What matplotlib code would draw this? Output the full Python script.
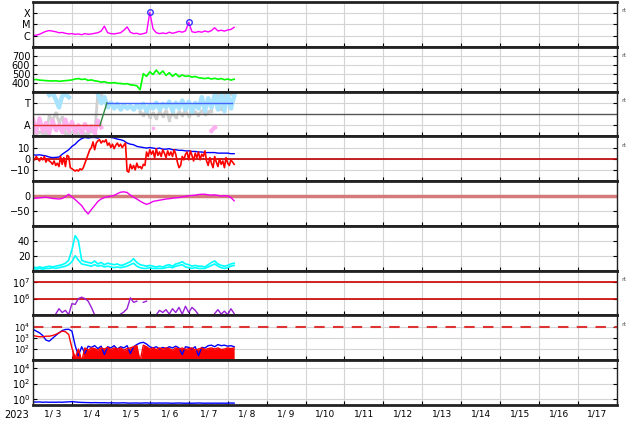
"""Space-weather summary stack: X-ray, solar wind, IMF, Dst, density, electrons, protons."""

import matplotlib

matplotlib.use("Agg")

import matplotlib.dates as mdates
import matplotlib.pyplot as plt
import matplotlib.ticker as mticker
import numpy as np

nan = np.nan
START = np.datetime64("2023-01-03T00:00")
END = np.datetime64("2023-01-18T00:00")

# sample times, hours after 2023-01-03 00:00 UT
hours = np.arange(0, 125, 2)      # 2-hour cadence
hours_1h = np.arange(0, 125, 1)   # 1-hour cadence

# GOES X-ray flux, units of 1e-6 W/m2
xray = [1.0, 1.1, 1.3, 1.8, 2.4, 2.8, 2.5, 2.2,
        1.8, 1.9, 1.6, 1.4, 1.5, 1.3, 1.4, 1.2,
        1.5, 1.3, 1.4, 1.6, 1.8, 2.5, 7.0, 1.8,
        1.5, 1.4, 1.6, 1.8, 3.0, 6.0, 2.0, 1.5,
        1.6, 1.3, 1.5, 1.8, 120.0, 4.0, 1.8, 1.5,
        1.7, 1.5, 2.0, 1.6, 1.9, 2.4, 2.0, 2.6,
        15.0, 2.2, 1.9, 2.3, 2.0, 2.6, 2.1, 2.8,
        5.0, 2.6, 3.0, 2.5, 3.2, 3.5, 5.5]
flare_hours = [72, 96]
flare_peak = [120.0, 15.0]

# solar wind speed, km/s
speed = [430, 435, 428, 425, 422, 420, 418, 420,
         415, 418, 422, 425, 430, 440, 445, 435,
         440, 425, 430, 420, 415, 405, 410, 398,
         395, 400, 392, 390, 385, 388, 375, 372,
         365, 320, 500, 470, 520, 490, 540, 495,
         530, 480, 510, 470, 500, 465, 485, 470,
         475, 462, 468, 455, 450, 445, 452, 440,
         448, 438, 445, 432, 440, 428, 438]

# IMF sector: T = +1, A = -1
imf_toward = [nan, nan, nan, nan, nan, 1.7, 1.9, 1.3,
              0.6, 1.6, 1.8, 1.5, nan, nan, nan, nan,
              nan, nan, nan, nan, 1.8, 1.0, 1.5, 0.6,
              1.0, 0.5, 0.9, 0.4, 0.8, 0.5, 0.7, 0.4,
              0.8, 0.5, 0.9, 0.3, 0.8, 0.5, 1.0, 0.4,
              0.9, 0.6, 1.1, 0.3, 1.0, 0.5, 1.2, 0.4,
              1.1, 0.2, 1.0, 0.5, 1.5, 0.3, 1.4, 0.6,
              1.7, 0.4, 1.8, 0.3, 1.9, 0.5, 1.6]
imf_away = [-0.5, -1.6, -0.4, -1.5, -0.8, -1.7, -0.6, -1.4,
            -1.0, -1.6, -0.5, -1.5, -0.7, -1.6, -1.0, -1.7,
            -0.9, -1.5, -1.1, -1.7, -0.6, -1.2, nan, nan,
            nan, nan, nan, nan, nan, nan, nan, nan,
            nan, nan, nan, nan, nan, -1.3, nan, nan,
            nan, nan, nan, nan, nan, nan, nan, nan,
            nan, nan, nan, nan, nan, nan, nan, -1.5,
            -1.2, nan, nan, nan, nan, nan, nan]
imf_other = [-1.7, -1.8, -1.6, -1.75, -1.7, -0.2, -0.6, 0.1,
             -0.7, -0.3, -1.7, -1.8, -1.6, -1.75, -1.7, -1.6,
             -1.8, -1.7, -1.5, -1.75, 1.9, 1.7, nan, nan,
             nan, nan, nan, nan, nan, nan, nan, nan,
             nan, 0.2, -0.1, 0.3, -0.3, 0.1, -0.4, 0.2,
             -0.2, 0.3, -0.5, 0.1, -0.3, 0.2, -0.1, 0.3,
             -0.2, 0.1, 0.2, -0.1, 0.3, 0.0, 0.2, 0.3,
             1.9, 1.8, 0.4, 1.9, 1.7, 1.8, 1.9]
sector_hours = [0, 41.3, 45.6, 122.7]
sector = [-1, -1, 1, 1]

# IMF magnitude (2-hour) and Bz (1-hour), nT
bt = [3.5, 3.2, 3.5, 3.0, 2.5, 1.5, 1.0, 1.2,
      1.5, 4.0, 6.0, 8.0, 11.0, 13.0, 16.0, 18.0,
      19.0, 18.5, 19.0, 19.0, 18.5, 19.5, 20.0, 19.5,
      19.0, 18.5, 17.5, 17.0, 16.0, 14.0, 13.0, 12.5,
      11.0, 10.5, 10.0, 9.5, 10.0, 9.5, 9.0, 9.5,
      8.5, 8.5, 9.0, 8.0, 8.0, 7.5, 7.5, 7.0,
      7.0, 6.5, 6.5, 6.0, 6.0, 5.5, 5.5, 5.5,
      5.5, 5.0, 5.0, 5.0, 5.0, 4.5, 4.5]
bz = [1, -1, 2, 0, -2, 1, -1, 2, -3, 0,
      -2, -3, -5, -2, -6, -4, -7, 2, -5, 1,
      -7, 3, 2, -8, -9, -10, -11, -10, -11, -9,
      -10, -8, -4, 0, 4, 8, 10, 15, 8, 14,
      16, 17, 14, 16, 15, 17, 12, 14, 10, 13,
      9, 12, 14, 11, 13, 10, 12, 14, -11, -12,
      -5, -9, -6, -10, -4, -8, -7, -9, -5, -6,
      6, 2, 8, 4, 7, 1, 9, 3, 6, 2,
      8, 5, 1, 7, 3, 6, 2, 8, 4, -3,
      -8, -6, 2, -1, 4, 6, -1, 7, 3, -2,
      5, 1, 6, -1, 4, 2, 7, -2, -6, 1,
      -4, -8, 2, -3, -7, 0, -5, -2, -8, 1,
      -4, -6, -1, -3, -5]

# Dst index, nT
dst = [-8, -7, -6, -5, -4, -6, -8, -9,
       -10, -8, -2, 6, -3, -12, -22, -32,
       -48, -60, -45, -32, -18, -10, -5, -3,
       0, 2, 8, 13, 14, 12, 3, -4,
       -10, -17, -23, -28, -24, -18, -16, -14,
       -12, -10, -9, -7, -6, -5, -3, -1,
       1, 2, 3, 5, 6, 6, 4, 3,
       4, 2, 0, 1, 0, -5, -16]

# solar wind density, two channels
dens_a = [5, 4, 5, 4, 5, 6, 5, 6,
          7, 8, 10, 14, 28, 47, 40, 14,
          12, 11, 10, 13, 9, 11, 8, 10,
          9, 8, 9, 7, 8, 10, 12, 16,
          11, 8, 7, 6, 7, 6, 5, 6,
          5, 7, 8, 6, 9, 10, 12, 9,
          8, 6, 7, 6, 6, 5, 8, 11,
          13, 9, 7, 6, 7, 9, 10]
dens_b = [3, 2, 3, 2, 3, 3, 4, 3,
          4, 5, 6, 8, 12, 20, 14, 9,
          8, 7, 6, 8, 6, 7, 5, 6,
          5, 4, 5, 4, 5, 6, 8, 10,
          6, 4, 3, 3, 4, 3, 3, 3,
          3, 4, 5, 4, 6, 7, 8, 5,
          4, 3, 4, 3, 3, 3, 5, 7,
          9, 6, 4, 3, 4, 6, 7]

# >2 MeV electron fluence, units of 1e5
electrons = [nan, nan, nan, nan, nan, nan, nan, 1.2,
             2.5, 1.5, 2.0, 1.1, 5.0, 4.5, 10.0, 12.0,
             10.0, 7.0, 3.0, 1.1, nan, nan, nan, nan,
             nan, nan, nan, 1.2, 1.6, 2.5, 11.0, 6.0,
             7.0, nan, 6.0, 7.0, nan, nan, 1.1, 2.0,
             1.5, 2.2, 1.2, 2.5, 1.5, 3.0, 1.2, 3.5,
             1.5, 3.0, 2.0, 1.1, nan, nan, nan, nan,
             1.3, 2.2, 1.2, 1.8, 1.1, 2.5, 1.3]

# proton flux, two channels
protons_blue = [5800, 4000, 2800, 1600, 630, 500, 900, 1600,
                2800, 4500, 5600, 5800, 4000, 200, 25, 160,
                40, 180, 140, 200, 110, 180, 32, 160,
                125, 200, 100, 160, 125, 200, 40, 160,
                250, 350, 400, 280, 160, 125, 160, 100,
                140, 110, 160, 125, 180, 125, 32, 160,
                140, 100, 160, 25, 140, 125, 200, 220,
                160, 250, 200, 220, 180, 200, 160]
protons_red = [1600, 1400, 1250, 1250, 1400, 1400, 1600, 2000,
               2800, 4000, 3500, 2000, 125, 16, 100, 8,
               125, 80, 125, 110, 80, 125, 100, 140,
               90, 125, 100, 125, 80, 110, 125, 160,
               200, 8, 220, 160, 100, 125, 90, 125,
               100, 125, 110, 80, 125, 100, 125, 90,
               110, 125, 80, 100, 125, 90, 110, 125,
               100, 125, 90, 100, 125, 110, 125]

# low-level channel
low_flux = [0.45, 0.42, 0.44, 0.40, 0.42, 0.40, 0.41, 0.40,
            0.42, 0.40, 0.43, 0.45, 0.48, 0.44, 0.40, 0.38,
            0.37, 0.36, 0.35, 0.36, 0.35, 0.34, 0.35, 0.33,
            0.34, 0.33, 0.32, 0.33, 0.34, 0.32, 0.31, 0.32,
            0.32, 0.31, 0.32, 0.33, 0.31, 0.32, 0.31, 0.32,
            0.31, 0.32, 0.31, 0.30, 0.31, 0.32, 0.31, 0.30,
            0.31, 0.30, 0.31, 0.32, 0.31, 0.30, 0.31, 0.30,
            0.31, 0.30, 0.31, 0.30, 0.31, 0.32, 0.31]


def at(h):
    minutes = np.round(np.asarray(h, dtype=float) * 60).astype(int)
    return START + minutes.astype("timedelta64[m]")


def day_label(x, pos):
    d = mdates.num2date(x)
    return f"{d.month}/{d.day:2d}"


def style(ax):
    ax.grid(True, which="major", color="#d4d4d4", lw=0.8)
    ax.set_axisbelow(True)
    for side in ("top", "bottom"):
        ax.spines[side].set_linewidth(2.0)
        ax.spines[side].set_color("#222222")
    for side in ("left", "right"):
        ax.spines[side].set_linewidth(1.0)
        ax.spines[side].set_color("#222222")
    ax.tick_params(axis="y", which="major", direction="in", left=True, right=True,
                   length=3, labelsize=7, pad=2)
    ax.tick_params(axis="y", which="minor", left=False, right=False)
    ax.tick_params(axis="x", which="major", direction="in", length=3, bottom=True, top=False)
    ax.tick_params(axis="x", which="minor", length=0, labelsize=6.5, pad=3)


def main():
    t = at(hours)
    t1 = at(hours_1h)
    fig, axes = plt.subplots(9, 1, figsize=(6.34, 4.24), dpi=100, sharex=True)
    fig.subplots_adjust(left=33 / 634, right=617 / 634, top=1 - 2 / 424,
                        bottom=1 - 405 / 424, hspace=0)
    ax1, ax2, ax3, ax4, ax5, ax6, ax7, ax8, ax9 = axes

    # X-ray flux
    ax1.set_yscale("log")
    ax1.plot(t, np.array(xray) * 1e-6, color="#ff00ff", lw=1)
    ax1.plot(at(flare_hours), np.array(flare_peak) * 1e-6, "o", mfc="none",
             mec="#3333ff", ms=4, mew=1)
    ax1.set_ylim(1e-7, 1e-3)
    ax1.yaxis.set_major_locator(mticker.FixedLocator([1e-6, 1e-5, 1e-4]))
    ax1.yaxis.set_major_formatter(mticker.FixedFormatter(["C", "M", "X"]))

    # solar wind speed
    ax2.plot(t, speed, color="#00ff00", lw=1.2)
    ax2.set_ylim(300, 800)
    ax2.set_yticks([400, 500, 600, 700])

    # IMF sector
    ax3.plot(t, imf_other, color="#d0d0d0", lw=2, marker="s", ms=1.5)
    ax3.plot(t, imf_away, color="#ffb0f0", lw=3, marker="s", ms=1.5)
    ax3.plot(t, imf_toward, color="#a8e4ff", lw=3.2, marker="s", ms=1.5)
    ax3.axhline(0, color="#555555", lw=1)
    st = at(sector_hours)
    ax3.plot(st[0:2], sector[0:2], color="#e03030", lw=1)
    ax3.plot(st[1:3], sector[1:3], color="#2e8b3e", lw=1)
    ax3.plot(st[2:4], sector[2:4], color="#4466ff", lw=1)
    ax3.set_ylim(-2, 2)
    ax3.set_yticks([-1, 1])
    ax3.set_yticklabels(["A", "T"])

    # IMF Bt / Bz
    ax4.axhline(0, color="#bb0000", lw=1.2)
    ax4.plot(t, bt, color="#0000ff", lw=1)
    ax4.plot(t1, bz, color="#ff0000", lw=1.2)
    ax4.set_ylim(-20, 20)
    ax4.set_yticks([-10, 0, 10])

    # Dst
    ax5.axhline(0, color="#d47a7a", lw=2.5)
    ax5.plot(t, dst, color="#ee00ee", lw=1)
    ax5.set_ylim(-100, 50)
    ax5.set_yticks([-50, 0])

    # density
    ax6.plot(t, dens_b, color="#00ffff", lw=1.2)
    ax6.plot(t, dens_a, color="#00ffff", lw=1.2)
    ax6.set_ylim(0, 60)
    ax6.set_yticks([20, 40])

    # electrons
    ax7.set_yscale("log")
    ax7.axhline(1e7, color="#cc0000", lw=1.2)
    ax7.axhline(1e6, color="#cc0000", lw=1.2)
    ax7.plot(t, np.array(electrons) * 1e5, color="#9a1fd6", lw=1)
    ax7.set_ylim(1e5, 10 ** 7.65)
    ax7.yaxis.set_major_locator(mticker.FixedLocator([1e6, 1e7]))

    # protons
    ax8.set_yscale("log")
    ax8.axhline(1e4, color="#dd3333", lw=1.5, ls=(0, (5, 4)))
    ax8.fill_between(t, 1, protons_red, where=hours >= 24, color="#ff0000", lw=0)
    ax8.plot(t, protons_blue, color="#0000ff", lw=1)
    ax8.plot(t, protons_red, color="#ff0000", lw=1)
    ax8.set_ylim(10, 1e5)
    ax8.yaxis.set_major_locator(mticker.FixedLocator([1e2, 1e3, 1e4]))

    # low channel
    ax9.set_yscale("log")
    ax9.plot(t, low_flux, color="#0000ff", lw=1)
    ax9.set_ylim(10 ** -0.75, 1e5)
    ax9.yaxis.set_major_locator(mticker.FixedLocator([1e0, 1e2, 1e4]))

    for ax in axes:
        style(ax)
        if ax.get_yscale() == "log":
            ax.yaxis.set_minor_locator(mticker.NullLocator())
    ax8.tick_params(axis="y", which="major", labelsize=6)

    for ax in (ax1, ax2, ax3, ax4, ax7, ax8):
        ax.text(1.008, 0.8, "rt", transform=ax.transAxes, fontsize=4.5,
                color="#555555", va="center", ha="left")

    ax9.set_xlim(START, END)
    ax9.xaxis.set_major_locator(mdates.DayLocator())
    ax9.xaxis.set_major_formatter(mticker.NullFormatter())
    ax9.xaxis.set_minor_locator(mdates.HourLocator(byhour=[12]))
    ax9.xaxis.set_minor_formatter(mticker.FuncFormatter(day_label))
    fig.text(17 / 634, 1 - 415 / 424, "2023", fontsize=7, ha="center", va="center")

    fig.savefig("out.png", dpi=100)
    plt.close(fig)


if __name__ == "__main__":
    main()
